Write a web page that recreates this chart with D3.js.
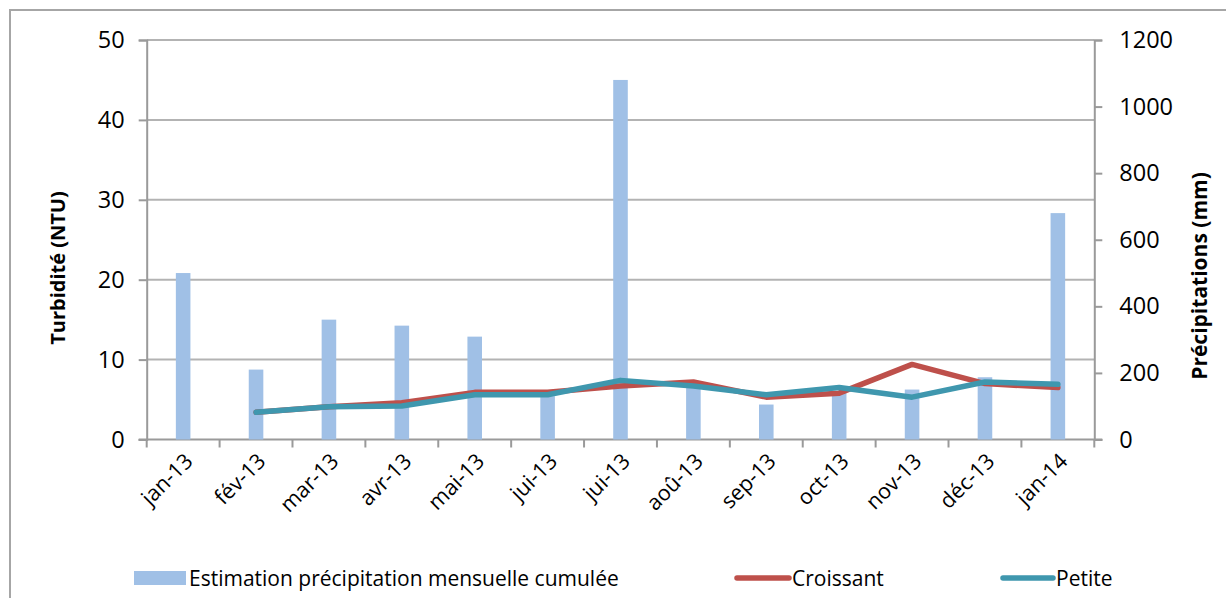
<!DOCTYPE html>
<html>
<head>
<meta charset="utf-8">
<script src="https://cdn.jsdelivr.net/npm/d3@7"></script>
<style>
  html, body { margin: 0; padding: 0; background: #fff; }
  svg { display: block; font-family: "Open Sans", "Noto Sans", sans-serif; }
</style>
</head>
<body>
<svg id="chart" width="1226" height="598"></svg>
<script>
// Monthly data, January 2013 – January 2014
const months = ["jan-13", "fév-13", "mar-13", "avr-13", "mai-13", "jui-13", "jui-13",
                "aoû-13", "sep-13", "oct-13", "nov-13", "déc-13", "jan-14"];
// Estimated cumulative monthly rainfall (mm), right axis
const precipitation = [500, 210, 360, 342, 309, 130, 1080, 160, 105, 141, 150, 187, 680];
// Turbidity (NTU), left axis; no reading for jan-13
const croissant = [null, 3.4, 4.1, 4.6, 5.9, 5.9, 6.7, 7.2, 5.3, 5.8, 9.4, 7.0, 6.5];
const petite    = [null, 3.4, 4.1, 4.2, 5.6, 5.6, 7.4, 6.7, 5.6, 6.5, 5.3, 7.2, 6.9];
const turbTicks = [0, 10, 20, 30, 40, 50];
const precTicks = [0, 200, 400, 600, 800, 1000, 1200];

const colors = { bar: "#a0c0e6", croissant: "#be504b", petite: "#3f97ae", axis: "#9a9a9a", grid: "#b3b3b3" };

const svg = d3.select("#chart");
const plot = { left: 146.7, right: 1094.3, top: 40, bottom: 439.5 };

// outer chart frame
svg.append("rect")
  .attr("x", 10).attr("y", 10).attr("width", 1240).attr("height", 620)
  .attr("fill", "none").attr("stroke", "#a6a6a6").attr("stroke-width", 2);

const x = d3.scaleBand().domain(d3.range(months.length)).range([plot.left, plot.right]);
const yL = d3.scaleLinear().domain([0, 50]).range([plot.bottom, plot.top]);
const yR = d3.scaleLinear().domain([0, 1200]).range([plot.bottom, plot.top]);

// horizontal gridlines
svg.append("g").selectAll("line").data(turbTicks.filter(d => d > 0)).join("line")
  .attr("x1", plot.left).attr("x2", plot.right)
  .attr("y1", d => yL(d)).attr("y2", d => yL(d))
  .attr("stroke", colors.grid).attr("stroke-width", 2);

// left axis
const axL = svg.append("g").attr("transform", `translate(${plot.left},0)`)
  .call(d3.axisLeft(yL).tickValues(turbTicks).tickSize(8).tickPadding(14));
// right axis
const axR = svg.append("g").attr("transform", `translate(${plot.right},0)`)
  .call(d3.axisRight(yR).tickValues(precTicks).tickFormat(d3.format("d")).tickSize(8).tickPadding(17));
// bottom axis: ticks on category boundaries
const bounds = d3.range(months.length + 1).map(i => plot.left + i * x.step());
const axB = svg.append("g").attr("transform", `translate(0,${plot.bottom})`);
axB.append("line").attr("x1", plot.left - 8).attr("x2", plot.right + 8)
  .attr("stroke", colors.axis).attr("stroke-width", 2);
axB.selectAll("line.tk").data(bounds).join("line").attr("class", "tk")
  .attr("x1", d => d).attr("x2", d => d).attr("y1", 0).attr("y2", 8)
  .attr("stroke", colors.axis).attr("stroke-width", 2);

[axL, axR].forEach(g => {
  g.select(".domain").attr("stroke", colors.axis).attr("stroke-width", 2);
  g.selectAll(".tick line").attr("stroke", colors.axis).attr("stroke-width", 2);
  g.selectAll(".tick text").attr("fill", "#000").attr("font-size", 23.5)
    .attr("font-family", "'Open Sans', sans-serif");
});

// month labels, rotated
axB.selectAll("text.lbl").data(months).join("text").attr("class", "lbl")
  .attr("transform", (d, i) => `translate(${x(i) + x.bandwidth() / 2 + 11},${23}) rotate(-45)`)
  .attr("text-anchor", "end")
  .attr("font-size", 21.5)
  .attr("fill", "#000")
  .text(d => d);

// rainfall bars
const barW = x.bandwidth() * 0.2;
svg.append("g").selectAll("rect").data(precipitation).join("rect")
  .attr("x", (d, i) => x(i) + x.bandwidth() / 2 - barW / 2)
  .attr("width", barW)
  .attr("y", d => yR(d))
  .attr("height", d => plot.bottom - yR(d))
  .attr("fill", colors.bar);

// turbidity lines
const line = d3.line()
  .defined(d => d != null)
  .x((d, i) => x(i) + x.bandwidth() / 2)
  .y(d => yL(d));
[[croissant, colors.croissant], [petite, colors.petite]].forEach(([data, c]) => {
  svg.append("path").datum(data)
    .attr("d", line)
    .attr("fill", "none").attr("stroke", c).attr("stroke-width", 5.5)
    .attr("stroke-linejoin", "round").attr("stroke-linecap", "round");
});

// axis titles
svg.append("text")
  .attr("transform", `translate(65,268) rotate(-90)`)
  .attr("text-anchor", "middle").attr("font-size", 20).attr("font-weight", "bold")
  .text("Turbidité (NTU)");
svg.append("text")
  .attr("transform", `translate(1207,276) rotate(-90)`)
  .attr("text-anchor", "middle").attr("font-size", 21).attr("font-weight", "bold")
  .text("Précipitations (mm)");

// legend
const lg = svg.append("g").attr("font-size", 21);
lg.append("rect").attr("x", 134).attr("y", 571).attr("width", 52).attr("height", 14).attr("fill", colors.bar);
lg.append("text").attr("x", 189).attr("y", 586).text("Estimation précipitation mensuelle cumulée");
lg.append("line").attr("x1", 737).attr("x2", 789).attr("y1", 578).attr("y2", 578)
  .attr("stroke", colors.croissant).attr("stroke-width", 5.5).attr("stroke-linecap", "round");
lg.append("text").attr("x", 792).attr("y", 586).text("Croissant");
lg.append("line").attr("x1", 1003).attr("x2", 1053).attr("y1", 578).attr("y2", 578)
  .attr("stroke", colors.petite).attr("stroke-width", 5.5).attr("stroke-linecap", "round");
lg.append("text").attr("x", 1056).attr("y", 586).text("Petite");
</script>
</body>
</html>
